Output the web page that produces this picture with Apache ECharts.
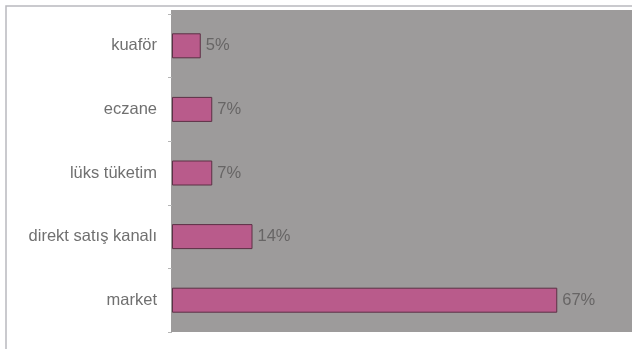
<!DOCTYPE html>
<html>
<head>
<meta charset="utf-8">
<script src="https://cdn.jsdelivr.net/npm/echarts@6/dist/echarts.min.js"></script>
<style>html,body{margin:0;padding:0;background:#fff}#c{width:632px;height:349px}</style>
</head>
<body>
<div id="c"></div>
<script>
var categories = ['market', 'direkt satış kanalı', 'lüks tüketim', 'eczane', 'kuaför'];
var values = [67, 14, 7, 7, 5];
var axisMax = 80;

var chart = echarts.init(document.getElementById('c'), null, {renderer: 'canvas'});
chart.setOption({
  animation: false,
  backgroundColor: '#ffffff',
  graphic: [
    {type: 'rect', z: -10, shape: {x: 6, y: 6, width: 640, height: 360}, style: {fill: '#ffffff', stroke: '#b9b9be', lineWidth: 1.5}},
    {type: 'rect', z: -5, shape: {x: 171, y: 10, width: 470, height: 322}, style: {fill: '#9d9b9b'}}
  ],
  grid: {left: 172, top: 14, width: 464, height: 318, containLabel: false},
  xAxis: {
    type: 'value', min: 0, max: axisMax, show: false
  },
  yAxis: {
    type: 'category', data: categories,
    axisLine: {show: false},
    axisTick: {show: true, length: 4, lineStyle: {color: '#b5b5b5'}},
    axisLabel: {color: '#707070', fontSize: 16.5, fontFamily: 'Liberation Sans, Arial, sans-serif', margin: 15}
  },
  series: [{
    type: 'bar',
    data: values,
    barWidth: 25,
    itemStyle: {color: '#b95b8b', borderColor: '#5c3045', borderWidth: 1},
    label: {
      show: true, position: 'right', distance: 5,
      formatter: '{c}%', color: '#676565', fontSize: 16.5,
      fontFamily: 'Liberation Sans, Arial, sans-serif'
    }
  }]
});
</script>
</body>
</html>
